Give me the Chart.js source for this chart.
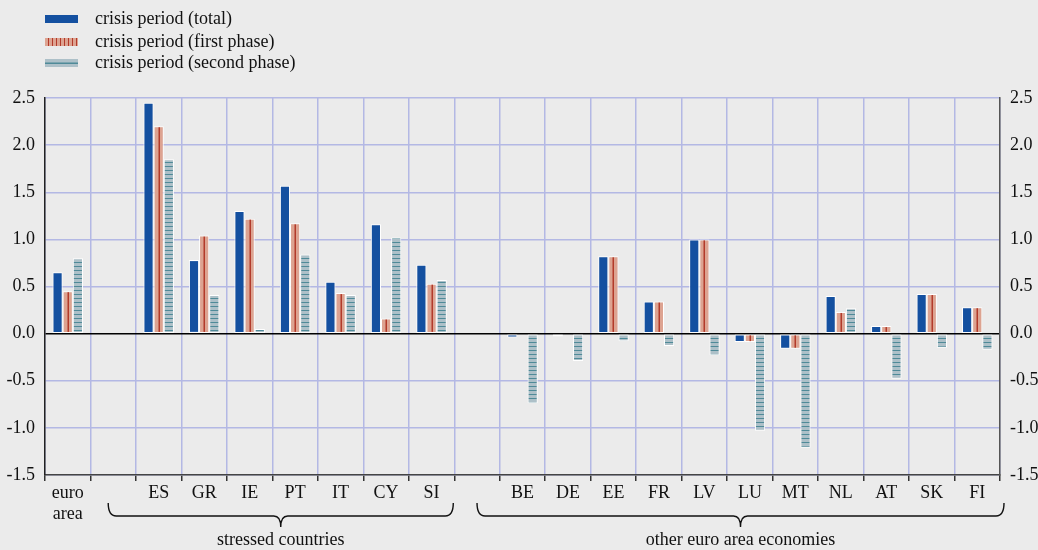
<!DOCTYPE html>
<html>
<head>
<meta charset="utf-8">
<script src="https://cdn.jsdelivr.net/npm/chart.js@4/dist/chart.umd.min.js"></script>
<style>
  html, body { margin: 0; padding: 0; background: #ebebeb; }
  #wrap { width: 1038px; height: 550px; }
</style>
</head>
<body>
<div id="wrap"><canvas id="chart" width="1038" height="550"></canvas></div>
<script>
const categories = [['euro', 'area'], '', 'ES', 'GR', 'IE', 'PT', 'IT', 'CY', 'SI', '',
    'BE', 'DE', 'EE', 'FR', 'LV', 'LU', 'MT', 'NL', 'AT', 'SK', 'FI'];

const crisisTotal = [0.65, null, 2.45, 0.78, 1.30, 1.57, 0.55, 1.16, 0.73, null,
    -0.04, -0.03, 0.82, 0.34, 1.00, -0.09, -0.16, 0.40, 0.08, 0.42, 0.28];
const crisisFirst = [0.45, null, 2.20, 1.04, 1.22, 1.17, 0.43, 0.16, 0.53, null,
    0.00, 0.00, 0.82, 0.34, 1.00, -0.09, -0.16, 0.23, 0.08, 0.42, 0.28];
const crisisSecond = [0.80, null, 1.85, 0.41, 0.05, 0.84, 0.41, 1.02, 0.57, null,
    -0.74, -0.29, -0.08, -0.13, -0.23, -1.03, -1.21, 0.27, -0.48, -0.15, -0.17];

const seriesLabels = ['crisis period (total)', 'crisis period (first phase)', 'crisis period (second phase)'];
const yTicks = [-1.5, -1.0, -0.5, 0.0, 0.5, 1.0, 1.5, 2.0, 2.5];
const groups = [
    { label: 'stressed countries', from: 1, to: 8 },
    { label: 'other euro area economies', from: 9, to: 20 }
];

const BLUE = '#1450a0';
const SALMON = '#dda391';
const RED_LINE = '#b23a2a';
const GREY = '#adc0c8';
const TEAL_LINE = '#4f8a98';
const GRID = '#b3b8e4';
const FONT = '"Liberation Serif", "Times New Roman", serif';
const FS = 18;

function hStripes() {
    const c = document.createElement('canvas');
    c.width = 4; c.height = 4;
    const g = c.getContext('2d');
    g.fillStyle = GREY;
    g.fillRect(0, 0, 4, 4);
    g.fillStyle = TEAL_LINE;
    g.fillRect(0, 2, 4, 1);
    return g.createPattern(c, 'repeat');
}
const secondPattern = hStripes();

// red centre stripe on first phase bars + legend + braces
const decor = {
    id: 'decor',
    afterDatasetsDraw(chart) {
        const ctx = chart.ctx;
        const meta = chart.getDatasetMeta(1);
        ctx.save();
        ctx.fillStyle = RED_LINE;
        meta.data.forEach((bar, i) => {
            if (crisisFirst[i] === null || Math.abs(bar.base - bar.y) < 2) return;
            const top = Math.min(bar.y, bar.base) + 1;
            const h = Math.abs(bar.base - bar.y) - 2;
            ctx.fillRect(Math.round(bar.x) - 0.5, top, 1.5, h);
        });
        ctx.restore();
    },
    afterDraw(chart) {
        const ctx = chart.ctx;
        const x = chart.scales.x;
        ctx.save();
        // legend
        const rows = [19, 42, 63];
        rows.forEach((y, i) => {
            const sx = 45, sw = 33, sh = 8;
            if (i === 0) {
                ctx.fillStyle = BLUE;
                ctx.fillRect(sx, y - sh / 2, sw, sh);
            } else if (i === 1) {
                ctx.fillStyle = SALMON;
                ctx.fillRect(sx, y - sh / 2, sw, sh);
                ctx.fillStyle = RED_LINE;
                for (let k = sx + 3; k < sx + sw - 1; k += 4) ctx.fillRect(k, y - sh / 2, 1, sh);
            } else {
                ctx.fillStyle = GREY;
                ctx.fillRect(sx, y - sh / 2, sw, sh);
                ctx.fillStyle = TEAL_LINE;
                ctx.fillRect(sx, y - 0.5, sw, 1.5);
            }
            ctx.fillStyle = '#111';
            ctx.font = FS + 'px ' + FONT;
            ctx.textBaseline = 'middle';
            ctx.textAlign = 'left';
            ctx.fillText(seriesLabels[i], 95, y);
        });

        // braces under country groups
        const half = (x.getPixelForValue(1) - x.getPixelForValue(0)) / 2;
        ctx.strokeStyle = '#111';
        ctx.lineWidth = 1.4;
        groups.forEach((grp, gi) => {
            const L = x.getPixelForValue(grp.from) - (gi === 0 ? 5 : 0);
            const R = x.getPixelForValue(grp.to) + half + (gi === 0 ? -1 : 4);
            const mid = (L + R) / 2;
            const yTop = 503, yLine = 516, yTip = 527;
            ctx.beginPath();
            ctx.moveTo(L, yTop);
            ctx.quadraticCurveTo(L, yLine, L + 8, yLine);
            ctx.lineTo(mid - 7, yLine);
            ctx.quadraticCurveTo(mid, yLine, mid, yTip);
            ctx.moveTo(mid, yTip);
            ctx.quadraticCurveTo(mid, yLine, mid + 7, yLine);
            ctx.lineTo(R - 8, yLine);
            ctx.quadraticCurveTo(R, yLine, R, yTop);
            ctx.stroke();
            ctx.fillStyle = '#111';
            ctx.font = FS + 'px ' + FONT;
            ctx.textAlign = 'center';
            ctx.textBaseline = 'middle';
            ctx.fillText(grp.label, mid, 540);
        });
        ctx.restore();
    }
};

const bgPlugin = {
    id: 'bg',
    beforeDraw(chart) {
        const ctx = chart.ctx;
        ctx.save();
        ctx.fillStyle = '#ebebeb';
        ctx.fillRect(0, 0, chart.width, chart.height);
        ctx.restore();
    }
};

const tickFmt = v => v.toFixed(1);

new Chart(document.getElementById('chart'), {
    type: 'bar',
    data: {
        labels: categories,
        datasets: [
            { label: seriesLabels[0], data: crisisTotal, backgroundColor: BLUE },
            { label: seriesLabels[1], data: crisisFirst, backgroundColor: SALMON },
            { label: seriesLabels[2], data: crisisSecond, backgroundColor: secondPattern }
        ]
    },
    options: {
        responsive: false,
        animation: false,
        devicePixelRatio: 1,
        layout: { padding: { top: 98, left: 0, right: 0, bottom: 0 } },
        datasets: {
            bar: {
                categoryPercentage: 0.67,
                barPercentage: 1.0,
                borderColor: '#ffffff',
                borderWidth: 1,
                borderSkipped: false
            }
        },
        plugins: {
            legend: { display: false },
            tooltip: { enabled: false }
        },
        scales: {
            x: {
                offset: true,
                grid: {
                    offset: true,
                    color: GRID,
                    lineWidth: 1.5,
                    tickColor: '#333',
                    tickLength: 6,
                    drawTicks: true
                },
                border: { display: true, color: '#444', width: 1.5 },
                ticks: {
                    autoSkip: false,
                    maxRotation: 0,
                    minRotation: 0,
                    padding: 2,
                    color: '#111',
                    font: { family: FONT, size: FS, lineHeight: 1.15 }
                },
                afterFit: s => { s.height = 75; }
            },
            y: {
                position: 'left',
                min: -1.5,
                max: 2.5,
                afterBuildTicks: s => { s.ticks = yTicks.map(v => ({ value: v })); },
                grid: {
                    color: c => c.tick && c.tick.value === 0 ? '#000' : GRID,
                    lineWidth: 1.5,
                    drawTicks: false
                },
                border: { display: true, color: '#222', width: 1.5 },
                ticks: {
                    padding: 10,
                    color: '#111',
                    font: { family: FONT, size: FS },
                    callback: tickFmt
                },
                afterFit: s => { s.width = 45; }
            },
            y2: {
                position: 'right',
                min: -1.5,
                max: 2.5,
                afterBuildTicks: s => { s.ticks = yTicks.map(v => ({ value: v })); },
                grid: { drawOnChartArea: false, drawTicks: false },
                border: { display: true, color: '#555', width: 1.5 },
                ticks: {
                    padding: 10,
                    color: '#111',
                    font: { family: FONT, size: FS },
                    callback: tickFmt
                },
                afterFit: s => { s.width = 38; }
            }
        }
    },
    plugins: [bgPlugin, decor]
});
</script>
</body>
</html>
